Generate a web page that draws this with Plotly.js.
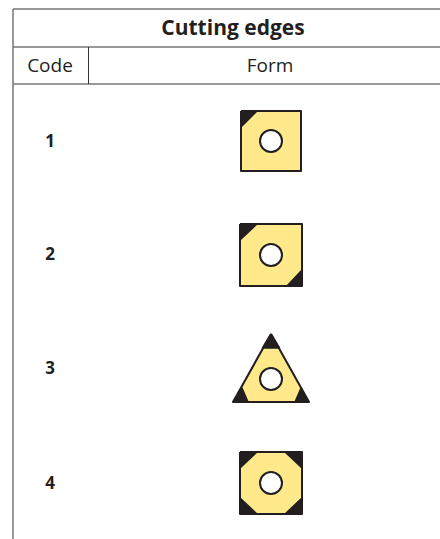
<!DOCTYPE html>
<html>
<head>
<meta charset="utf-8">
<script src="https://cdn.plot.ly/plotly-3.0.1.min.js"></script>
<style>html,body{margin:0;padding:0;background:#fff}#c{width:440px;height:539px}
.scatterlayer path{stroke-linejoin:round !important}</style>
</head>
<body>
<div id="c"></div>
<script>
var titleText = 'Cutting edges';
var headerCode = 'Code';
var headerForm = 'Form';
var codes = ['1', '2', '3', '4'];
var codeRows = [143, 256, 370, 485];

// Outline of each insert, and its dark cutting tips, relative to the insert's centre
var square = [[-30,-30],[30,-30],[30,30],[-30,30]];
var squareLarge = [[-31,-31],[31,-31],[31,31],[-31,31]];
var triangle = [[0,-45],[38,23],[-38,23]];
var insertCentres = [[271,141],[271,255],[271,379],[271,483]];
var insertOutlines = [square, squareLarge, triangle, squareLarge];
var insertTips = [
  [[[-30,-30],[-14,-30],[-30,-14]]],
  [[[-31,-31],[-14,-31],[-31,-15]], [[31,31],[16,31],[31,15]]],
  [[[0,-45],[8.5,-31],[-8.5,-31]], [[-38,23],[-23,23],[-29,9]], [[38,23],[24,23],[30,9]]],
  [[[-31,-31],[-14,-31],[-31,-15]], [[31,-31],[14,-31],[31,-15]], [[31,31],[14,31],[31,15]], [[-31,31],[-14,31],[-31,15]]]
];
var holeCentres = [[271,141],[271,255],[271,379],[271,483]];

var rules = [
  {x:[13,440], y:[9,9], w:1.5, c:'#777777'},
  {x:[13,440], y:[47,47], w:1.5, c:'#777777'},
  {x:[13,440], y:[84,84], w:1.5, c:'#777777'},
  {x:[13,13], y:[9,539], w:1.5, c:'#777777'},
  {x:[88.5,88.5], y:[47,84], w:1, c:'#333333'}
];

var inkColor = '#231f20', fillColor = '#ffe98a';
var traces = [];
function poly(points, cx, cy, fill, lineW) {
  var xs = points.map(function(p){return cx + p[0];});
  var ys = points.map(function(p){return cy + p[1];});
  xs.push(xs[0]); ys.push(ys[0]);
  traces.push({x:xs, y:ys, mode:'lines', fill:'toself', fillcolor:fill,
    line:{color:inkColor, width:lineW}, hoverinfo:'skip', showlegend:false});
}
rules.forEach(function(r){
  traces.push({x:r.x, y:r.y, mode:'lines', line:{color:r.c, width:r.w}, hoverinfo:'skip', showlegend:false});
});
insertCentres.forEach(function(c, i){
  poly(insertOutlines[i], c[0], c[1], fillColor, 2);
  insertTips[i].forEach(function(t){ poly(t, c[0], c[1], inkColor, 1.5); });
});
traces.push({x:holeCentres.map(function(c){return c[0];}), y:holeCentres.map(function(c){return c[1];}),
  mode:'markers', marker:{size:22, color:'#ffffff', line:{color:inkColor, width:2}}, hoverinfo:'skip', showlegend:false});
traces.push({x:codes.map(function(){return 50;}), y:codeRows, text:codes, mode:'text', textposition:'middle center',
  textfont:{family:'Open Sans', size:17, color:inkColor, weight:700}, hoverinfo:'skip', showlegend:false});
traces.push({x:[233], y:[30], text:['<b>'+titleText+'</b>'], mode:'text', textposition:'middle center',
  textfont:{family:'Open Sans', size:21, color:inkColor}, hoverinfo:'skip', showlegend:false});
traces.push({x:[50,270], y:[67,67], text:[headerCode, headerForm], mode:'text', textposition:'middle center',
  textfont:{family:'Open Sans', size:19, color:inkColor}, hoverinfo:'skip', showlegend:false});

Plotly.newPlot('c', traces, {
  width:440, height:539,
  margin:{l:0,r:0,t:0,b:0},
  paper_bgcolor:'#ffffff', plot_bgcolor:'#ffffff',
  xaxis:{range:[0,440], visible:false, fixedrange:true},
  yaxis:{range:[539,0], visible:false, fixedrange:true},
  showlegend:false
}, {displayModeBar:false, staticPlot:true});
</script>
</body>
</html>
